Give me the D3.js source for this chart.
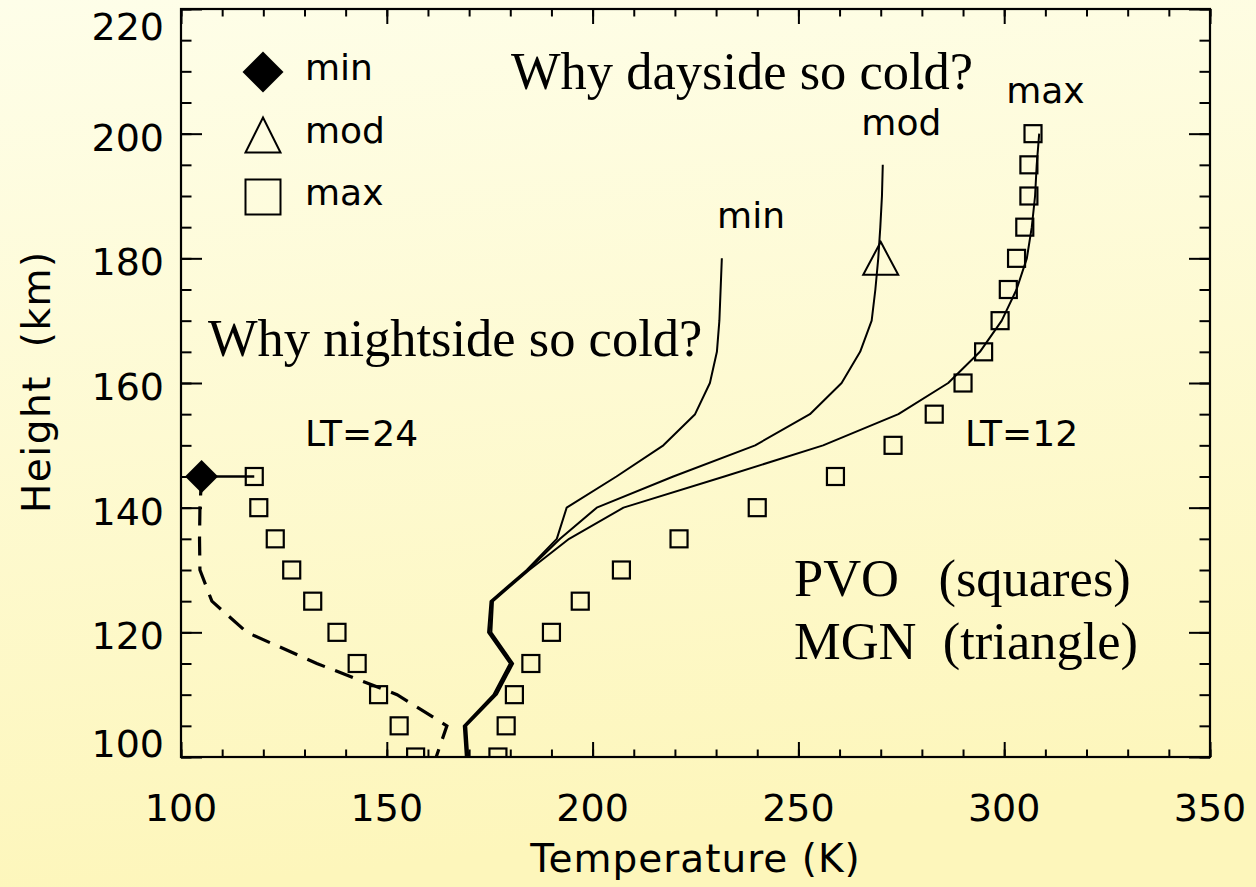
<!DOCTYPE html>
<html>
<head>
<meta charset="utf-8">
<script src="https://cdn.jsdelivr.net/npm/d3@7"></script>
<style>
  html, body { margin: 0; padding: 0; }
  svg { display: block; }
</style>
</head>
<body>
<svg id="chart" width="1256" height="887"></svg>
<script>
// Venus upper-atmosphere temperature profiles: dayside (LT=12) and nightside (LT=24)

// Axis ticks
const tempTicks = [100, 150, 200, 250, 300, 350];
const heightTicks = [100, 120, 140, 160, 180, 200, 220];

// Dayside model profiles (solar min / moderate / max), heights in km, temperatures in K
const dayMinHeights = [100,105,110,115,120,125,130,135,140,145,150,155,160,165,170,175,180];
const dayMinTemp    = [169.2,168.7,175.9,179.9,174.6,175.2,184.0,191.3,193.7,205.8,217.2,224.9,228.5,230.2,230.8,231.1,231.4];

const dayModHeights = [100,105,110,115,120,125,130,135,140,145,150,155,160,165,170,175,180,185,190,195];
const dayModTemp    = [169.5,169.0,176.3,180.3,175.0,175.5,184.3,192.1,201.0,219.6,239.5,252.8,260.5,265.0,267.8,268.7,269.4,269.9,270.3,270.5];

const dayMaxHeights = [100,105,110,115,120,125,130,135,140,145,150,155,160,165,170,175,180,185,190,195,200];
const dayMaxTemp    = [169.8,169.3,176.7,180.7,175.4,175.8,184.6,194.3,207.5,232.0,256.0,274.3,286.4,294.1,299.4,303.0,305.5,306.7,307.5,307.9,308.5];

// Dayside PVO observations (squares)
const pvoDayHeights = [100,105,110,115,120,125,130,135,140,145,150,155,160,165,170,175,180,185,190,195,200];
const pvoDayTemp    = [177,179,181,185,190,197,207,221,240,259,273,283,290,295,299,301,303,305,306,306,307];

// Nightside PVO observations (squares)
const pvoNightHeights = [100,105,110,115,120,125,130,135,140,145];
const pvoNightTemp    = [157,153,148,142.8,137.9,132,126.9,122.9,118.9,117.8];

// Nightside model profile (dashed)
const nightModelHeights = [145,140,135,130,125,120,115,110,105,100];
const nightModelTemp    = [105,104.6,104.5,104.6,107.5,116,133,152.5,164.6,162];

// Single-point markers: nightside model minimum (diamond) and MGN dayside (triangle)
const minMarker = { temp: 105, height: 145 };
const mgnMarker = { temp: 270, height: 180 };

// Curve labels
const curveLabels = [
  { text: "min", temp: 238.5, height: 184.8 },
  { text: "mod", temp: 275, height: 199.8 },
  { text: "max", temp: 310, height: 205 }
];

const W = 1256, H = 887;
const plot = { left: 181, right: 1210, top: 9, bottom: 757 };

const svg = d3.select("#chart");

// Background gradient
const defs = svg.append("defs");
const grad = defs.append("linearGradient").attr("id", "bg")
  .attr("x1", 0).attr("y1", 0).attr("x2", 0.15).attr("y2", 1);
grad.append("stop").attr("offset", "0%").attr("stop-color", "#fefee9");
grad.append("stop").attr("offset", "100%").attr("stop-color", "#fdf6bb");
svg.append("rect").attr("width", W).attr("height", H).attr("fill", "url(#bg)");

defs.append("clipPath").attr("id", "plotClip")
  .append("rect")
  .attr("x", plot.left).attr("y", plot.top)
  .attr("width", plot.right - plot.left).attr("height", plot.bottom - plot.top);

const x = d3.scaleLinear().domain([100, 350]).range([plot.left, plot.right]);
const y = d3.scaleLinear().domain([100, 220]).range([plot.bottom, plot.top]);

const sansFont = "'DejaVu Sans', Verdana, sans-serif";
const serifFont = "'Liberation Serif', 'Times New Roman', serif";

// ---- Axes: major + minor ticks on all four sides ----
const xMinor = d3.range(100, 351, 10);
const yMinor = d3.range(100, 221, 5);

function styleAxis(g) {
  g.select(".domain").remove();
  g.selectAll(".tick line").attr("stroke", "#000").attr("stroke-width", 2);
}

svg.append("g").attr("transform", `translate(0,${plot.bottom})`)
  .call(d3.axisTop(x).tickValues(xMinor).tickSize(7.5).tickFormat(""))
  .call(styleAxis);
svg.append("g").attr("transform", `translate(0,${plot.bottom})`)
  .call(d3.axisTop(x).tickValues(tempTicks).tickSize(15).tickFormat(""))
  .call(styleAxis);
svg.append("g").attr("transform", `translate(0,${plot.top})`)
  .call(d3.axisBottom(x).tickValues(xMinor).tickSize(7.5).tickFormat(""))
  .call(styleAxis);
svg.append("g").attr("transform", `translate(0,${plot.top})`)
  .call(d3.axisBottom(x).tickValues(tempTicks).tickSize(15).tickFormat(""))
  .call(styleAxis);

svg.append("g").attr("transform", `translate(${plot.left},0)`)
  .call(d3.axisRight(y).tickValues(yMinor).tickSize(10.5).tickFormat(""))
  .call(styleAxis);
svg.append("g").attr("transform", `translate(${plot.left},0)`)
  .call(d3.axisRight(y).tickValues(heightTicks).tickSize(21).tickFormat(""))
  .call(styleAxis);
svg.append("g").attr("transform", `translate(${plot.right},0)`)
  .call(d3.axisLeft(y).tickValues(yMinor).tickSize(10.5).tickFormat(""))
  .call(styleAxis);
svg.append("g").attr("transform", `translate(${plot.right},0)`)
  .call(d3.axisLeft(y).tickValues(heightTicks).tickSize(21).tickFormat(""))
  .call(styleAxis);

// Frame
svg.append("rect")
  .attr("x", plot.left).attr("y", plot.top)
  .attr("width", plot.right - plot.left).attr("height", plot.bottom - plot.top)
  .attr("fill", "none").attr("stroke", "#000").attr("stroke-width", 2.2);

// Tick labels
svg.append("g").selectAll("text").data(tempTicks).join("text")
  .attr("x", d => x(d)).attr("y", 821)
  .attr("text-anchor", "middle")
  .attr("font-family", sansFont).attr("font-size", 38)
  .text(d => d);

svg.append("g").selectAll("text").data(heightTicks).join("text")
  .attr("x", 164)
  .attr("y", d => {
    if (d === heightTicks[0]) return y(d);            // keep lowest label above the axis
    if (d === heightTicks[heightTicks.length - 1]) return y(d) + 31;
    return y(d) + 17;
  })
  .attr("text-anchor", "end")
  .attr("font-family", sansFont).attr("font-size", 38)
  .text(d => d);

// Axis titles
svg.append("text")
  .attr("x", (plot.left + plot.right) / 2).attr("y", 872)
  .attr("text-anchor", "middle")
  .attr("font-family", sansFont).attr("font-size", 39)
  .attr("letter-spacing", 1)
  .text("Temperature (K)");

svg.append("text")
  .attr("transform", "translate(50,513) rotate(-90)")
  .attr("text-anchor", "start")
  .attr("font-family", sansFont).attr("font-size", 39)
  .attr("letter-spacing", 1.5)
  .style("white-space", "pre")
  .text("Height  (km)");

// ---- Data ----
const data = svg.append("g").attr("clip-path", "url(#plotClip)");

const line = d3.line().x(d => x(d[0])).y(d => y(d[1]));
const zipProfile = (temps, heights) => temps.map((t, i) => [t, heights[i]]);

// Dayside model curves
[[dayMinTemp, dayMinHeights], [dayModTemp, dayModHeights], [dayMaxTemp, dayMaxHeights]]
  .forEach(([t, h]) => {
    data.append("path")
      .attr("d", line(zipProfile(t, h)))
      .attr("fill", "none").attr("stroke", "#000")
      .attr("stroke-width", 2).attr("stroke-linejoin", "round");
  });

// Nightside model curve (dashed)
data.append("path")
  .attr("d", line(zipProfile(nightModelTemp, nightModelHeights)))
  .attr("fill", "none").attr("stroke", "#000")
  .attr("stroke-width", 3.2).attr("stroke-dasharray", "19,11");

// Link between nightside minimum and the top PVO nightside point
data.append("path")
  .attr("d", line([[minMarker.temp, minMarker.height],
                   [pvoNightTemp[pvoNightTemp.length - 1], pvoNightHeights[pvoNightHeights.length - 1]]]))
  .attr("fill", "none").attr("stroke", "#000").attr("stroke-width", 2.5);

// PVO squares
const squareSide = 17;
const pvoPoints = zipProfile(pvoDayTemp, pvoDayHeights).concat(zipProfile(pvoNightTemp, pvoNightHeights));
data.append("g").selectAll("rect").data(pvoPoints).join("rect")
  .attr("x", d => x(d[0]) - squareSide / 2)
  .attr("y", d => y(d[1]) - squareSide / 2)
  .attr("width", squareSide).attr("height", squareSide)
  .attr("fill", "none").attr("stroke", "#000").attr("stroke-width", 2.2);

// Shape helpers
function diamondPath(cx, cy, r) {
  return `M${cx},${cy - r}L${cx + r},${cy}L${cx},${cy + r}L${cx - r},${cy}Z`;
}
function trianglePath(cx, cy, w, h) {
  return `M${cx},${cy - h / 2}L${cx + w / 2},${cy + h / 2}L${cx - w / 2},${cy + h / 2}Z`;
}

// Minimum marker (filled diamond)
data.append("path")
  .attr("d", diamondPath(x(minMarker.temp), y(minMarker.height), 16.5))
  .attr("fill", "#000");

// MGN marker (open triangle)
data.append("path")
  .attr("d", trianglePath(x(mgnMarker.temp), y(mgnMarker.height), 35, 33))
  .attr("fill", "none").attr("stroke", "#000").attr("stroke-width", 2);

// Curve labels
svg.append("g").selectAll("text").data(curveLabels).join("text")
  .attr("x", d => x(d.temp)).attr("y", d => y(d.height))
  .attr("text-anchor", "middle")
  .attr("font-family", sansFont).attr("font-size", 36)
  .text(d => d.text);

// ---- Legend ----
const legendItems = [
  { label: "min", shape: "diamond", cy: 72 },
  { label: "mod", shape: "triangle", cy: 135 },
  { label: "max", shape: "square", cy: 197 }
];
const legend = svg.append("g");
legendItems.forEach(it => {
  const cx = 263;
  if (it.shape === "diamond") {
    legend.append("path").attr("d", diamondPath(cx, it.cy, 20.5)).attr("fill", "#000");
  } else if (it.shape === "triangle") {
    legend.append("path").attr("d", trianglePath(cx, it.cy, 35, 35))
      .attr("fill", "none").attr("stroke", "#000").attr("stroke-width", 2);
  } else {
    legend.append("rect").attr("x", cx - 17.5).attr("y", it.cy - 17.5)
      .attr("width", 35).attr("height", 35)
      .attr("fill", "none").attr("stroke", "#000").attr("stroke-width", 2);
  }
  legend.append("text")
    .attr("x", 305).attr("y", it.cy + 8)
    .attr("font-family", sansFont).attr("font-size", 36)
    .text(it.label);
});

// ---- Annotations ----
const notes = svg.append("g").attr("font-family", serifFont).attr("font-size", 52.5);
notes.append("text").attr("x", 511).attr("y", 89).text("Why dayside so cold?");
notes.append("text").attr("x", 208).attr("y", 356).text("Why nightside so cold?");
notes.append("text").attr("x", 794).attr("y", 596).style("white-space", "pre").text("PVO   (squares)");
notes.append("text").attr("x", 794).attr("y", 659).style("white-space", "pre").text("MGN  (triangle)");

const ltNotes = svg.append("g").attr("font-family", sansFont).attr("font-size", 36);
ltNotes.append("text").attr("x", 305).attr("y", 446).text("LT=24");
ltNotes.append("text").attr("x", 965).attr("y", 446).text("LT=12");
</script>
</body>
</html>
